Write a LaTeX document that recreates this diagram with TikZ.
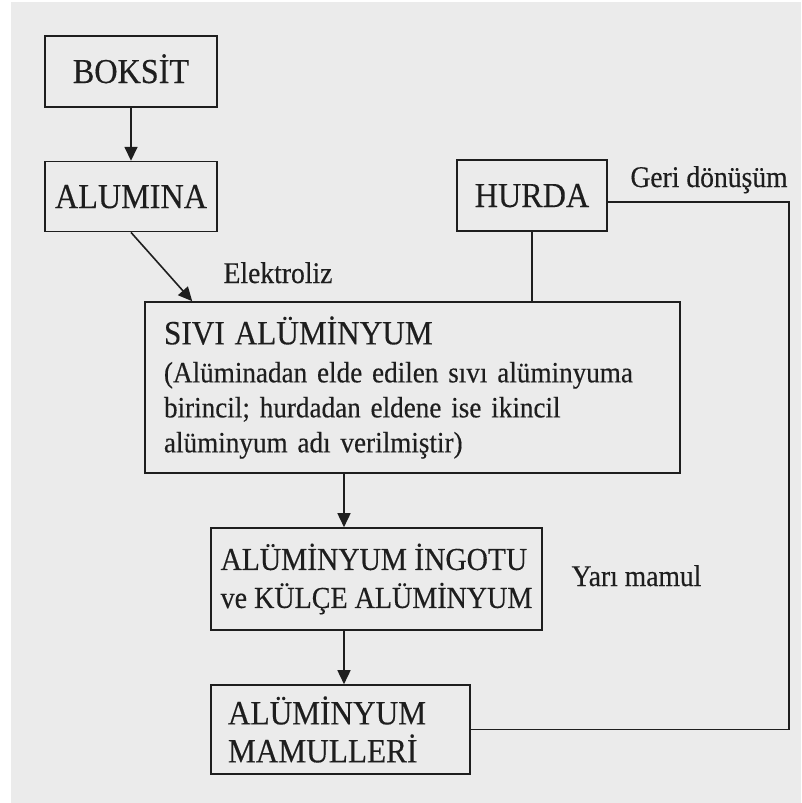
\documentclass[tikz,border=0pt]{standalone}
\usepackage{fontspec}
\setmainfont{Liberation Serif}[FakeStretch=0.92, FakeBold=0.3]
\usepackage{tikz}
\usetikzlibrary{arrows.meta,calc,positioning}
\definecolor{paper}{HTML}{EBEBEB}
\definecolor{ink}{HTML}{1E1E1E}

\begin{document}
\begin{tikzpicture}[
    x=1pt, y=-1pt,
    box/.style={draw=ink, line width=1.6pt, inner sep=0pt, text=ink},
    capbox/.style={box, font=\fontsize{35}{40}\selectfont, text height=23pt, text depth=0pt, minimum height=71pt},
    tallbox/.style={box, align=left},
    note/.style={text=ink, font=\fontsize{30}{36}\selectfont, anchor=base},
    >={Triangle[length=14pt,width=13pt]},
]

% Sheet
\fill[white] (0,0) rectangle (801,803);
\fill[paper] (11,2) rectangle (801,803);
\useasboundingbox (0,0) rectangle (801,803);

% Raw materials
\node[capbox, minimum width=172pt] (boksit) at (131,71.5) {BOKSİT};
\node[capbox, minimum width=172pt, minimum height=70pt, below=53pt of boksit] (alumina) {ALUMINA};
\node[capbox, minimum width=150pt] (hurda) at (532,195.5) {HURDA};

% Molten metal
\node[tallbox, text width=497pt, inner xsep=19pt, minimum height=171pt,
      font=\fontsize{29.5}{35}\selectfont] (sivi) at (412.5,387.5) {
  {\fontsize{34}{35}\selectfont SIVI ALÜMİNYUM}\\[3pt]
  (Alüminadan elde edilen sıvı alüminyuma\\
  birincil; hurdadan eldene ise ikincil\\
  alüminyum adı verilmiştir)
};

% Semi-finished and finished products
\node[tallbox, minimum width=331pt, minimum height=102pt, inner xsep=9pt,
      font=\fontsize{30.5}{38}\selectfont] (ingot) at (376.5,579) {
  {\fontsize{32}{38}\selectfont ALÜMİNYUM İNGOTU}\\
  ve KÜLÇE ALÜMİNYUM
};
\node[tallbox, text width=225pt, inner xsep=17pt, minimum height=89pt,
      font=\fontsize{34}{38}\selectfont] (mamul) at (340.5,729.5) {
  ALÜMİNYUM\\
  MAMULLERİ
};

% Flow
\draw[->, ink, line width=1.6pt] (boksit) -- (alumina);
\draw[->, ink, line width=1.6pt] (alumina.south) -- ([xshift=48pt]sivi.north west);
\node[note] (elektroliz) at (278,283) {Elektroliz};
\draw[ink, line width=1.6pt] (hurda.south) -- (hurda.south |- sivi.north);
\draw[->, ink, line width=1.6pt] ([xshift=-32.5pt]ingot.north |- sivi.south) -- ([xshift=-32.5pt]ingot.north);
\draw[->, ink, line width=1.6pt] ([xshift=-32.5pt]ingot.south) -- ([xshift=-32.5pt]ingot.south |- mamul.north);
\node[note] (yari) at (636.5,586) {Yarı mamul};

% Recycling loop
\coordinate (turn) at (789,202);
\draw[ink, line width=1.6pt] ([yshift=-6.5pt]hurda.east) -- (turn) |- (mamul.east);
\node[note] (geri) at (709,187) {Geri dönüşüm};

\end{tikzpicture}
\end{document}
